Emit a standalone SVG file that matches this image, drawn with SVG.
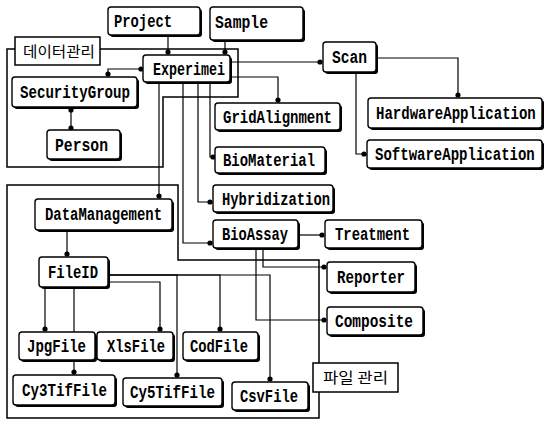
<svg xmlns="http://www.w3.org/2000/svg" width="548" height="422" viewBox="0 0 548 422">
<style>
.sh{fill:#000}
.bx{fill:#fff;stroke:#000;stroke-width:1.4}
.lb{fill:#fff;stroke:#000;stroke-width:1.5}
.t{font-family:"Liberation Mono","DejaVu Sans Mono",monospace;font-weight:bold;font-size:19px;fill:#000}
.k{font-family:"Noto Sans CJK KR","Noto Sans",sans-serif;font-size:15px;fill:#000}
.fr{fill:none;stroke:#000;stroke-width:1.5}
.c{fill:none;stroke:#000;stroke-width:1.2}
.d{marker-end:url(#dot)}
.s{marker-start:url(#dot)}
</style>
<defs>
<marker id="dot" viewBox="0 0 6 6" refX="3" refY="3" markerWidth="6" markerHeight="6" markerUnits="userSpaceOnUse"><circle cx="3" cy="3" r="2.6" fill="#000"/></marker>
</defs>
<rect width="548" height="422" fill="#fff"/>
<g id="frames">
<path class="fr" d="M15,49 H7 V167 H163 V97 H238 V49 H100"/>
<path class="fr" d="M7,185 H178 V260 H319 V418 H7 Z"/>
</g>
<g id="connectors">
<path class="c d" d="M168,35 V52"/>
<path class="c d" d="M225,40 V52"/>
<path class="c d s" d="M141,69 H108 V74"/>
<path class="c d s" d="M71,110 V128"/>
<path class="c d" d="M230,62 H320"/>
<path class="c d" d="M230,77 H278 V100"/>
<path class="c d" d="M210,82 V157 H213"/>
<path class="c d" d="M198,82 V202 H210"/>
<path class="c d" d="M183,82 V243 H210"/>
<path class="c d" d="M159,82 V196"/>
<path class="c d" d="M376,58 H458 V95"/>
<path class="c d" d="M356,72 V154 H364"/>
<path class="c d" d="M298,235 H322"/>
<path class="c d" d="M263,248 V267 H324"/>
<path class="c d" d="M256,248 V320 H324"/>
<path class="c d" d="M67,230 V254"/>
<path class="c d" d="M45,287 V329"/>
<path class="c d" d="M74,287 V372"/>
<path class="c d" d="M108,282 H160 V329"/>
<path class="c d" d="M108,275 H177 V375"/>
<path class="c d" d="M108,275 H220 V329"/>
<path class="c d" d="M108,275 H270 V379"/>
</g>
<g id="Project"><rect class="sh" x="110" y="9" width="92" height="28" rx="3"/><rect class="bx" x="108" y="7" width="92" height="28" rx="3"/><text class="t" x="114" y="27" textLength="58" lengthAdjust="spacingAndGlyphs">Project</text></g>
<g id="Sample"><rect class="sh" x="212" y="9" width="93" height="33" rx="3"/><rect class="bx" x="210" y="7" width="93" height="33" rx="3"/><text class="t" x="215" y="28" textLength="53" lengthAdjust="spacingAndGlyphs">Sample</text></g>
<g id="DataAdmin"><rect class="lb" x="15" y="37" width="85" height="28"/><text class="k" x="23" y="57" textLength="72" lengthAdjust="spacingAndGlyphs">데이터관리</text></g>
<g id="Experiment"><rect class="sh" x="145" y="57" width="87" height="27" rx="3"/><rect class="bx" x="143" y="55" width="87" height="27" rx="3"/><text class="t" x="153" y="75" textLength="72" lengthAdjust="spacingAndGlyphs">Experimei</text></g>
<g id="SecurityGroup"><rect class="sh" x="14" y="79" width="125" height="30" rx="3"/><rect class="bx" x="12" y="77" width="125" height="30" rx="3"/><text class="t" x="20" y="98" textLength="110" lengthAdjust="spacingAndGlyphs">SecurityGroup</text></g>
<g id="Person"><rect class="sh" x="49" y="132" width="73" height="29" rx="3"/><rect class="bx" x="47" y="130" width="73" height="29" rx="3"/><text class="t" x="55" y="151" textLength="53" lengthAdjust="spacingAndGlyphs">Person</text></g>
<g id="Scan"><rect class="sh" x="325" y="44" width="53" height="30" rx="3"/><rect class="bx" x="323" y="42" width="53" height="30" rx="3"/><text class="t" x="332" y="63" textLength="35" lengthAdjust="spacingAndGlyphs">Scan</text></g>
<g id="GridAlignment"><rect class="sh" x="217" y="105" width="125" height="27" rx="3"/><rect class="bx" x="215" y="103" width="125" height="27" rx="3"/><text class="t" x="223" y="123" textLength="109" lengthAdjust="spacingAndGlyphs">GridAlignment</text></g>
<g id="HardwareApplication"><rect class="sh" x="370" y="100" width="174" height="30" rx="3"/><rect class="bx" x="368" y="98" width="174" height="30" rx="3"/><text class="t" transform="translate(376,119) scale(0.738,1)">HardwareApplication</text></g>
<g id="SoftwareApplication"><rect class="sh" x="369" y="142" width="175" height="28" rx="3"/><rect class="bx" x="367" y="140" width="175" height="28" rx="3"/><text class="t" transform="translate(375,160) scale(0.738,1)">SoftwareApplication</text></g>
<g id="BioMaterial"><rect class="sh" x="217" y="149" width="110" height="26" rx="3"/><rect class="bx" x="215" y="147" width="110" height="26" rx="3"/><text class="t" x="223" y="166" textLength="92" lengthAdjust="spacingAndGlyphs">BioMaterial</text></g>
<g id="Hybridization"><rect class="sh" x="215" y="187" width="120" height="27" rx="3"/><rect class="bx" x="213" y="185" width="120" height="27" rx="3"/><text class="t" x="222" y="205" textLength="108" lengthAdjust="spacingAndGlyphs">Hybridization</text></g>
<g id="BioAssay"><rect class="sh" x="215" y="222" width="85" height="28" rx="3"/><rect class="bx" x="213" y="220" width="85" height="28" rx="3"/><text class="t" x="222" y="240" textLength="66" lengthAdjust="spacingAndGlyphs">BioAssay</text></g>
<g id="Treatment"><rect class="sh" x="327" y="222" width="97" height="28" rx="3"/><rect class="bx" x="325" y="220" width="97" height="28" rx="3"/><text class="t" x="335" y="240" textLength="75" lengthAdjust="spacingAndGlyphs">Treatment</text></g>
<g id="Reporter"><rect class="sh" x="329" y="264" width="88" height="30" rx="3"/><rect class="bx" x="327" y="262" width="88" height="30" rx="3"/><text class="t" x="337" y="283" textLength="68" lengthAdjust="spacingAndGlyphs">Reporter</text></g>
<g id="Composite"><rect class="sh" x="329" y="309" width="96" height="28" rx="3"/><rect class="bx" x="327" y="307" width="96" height="28" rx="3"/><text class="t" x="335" y="327" textLength="78" lengthAdjust="spacingAndGlyphs">Composite</text></g>
<g id="DataManagement"><rect class="sh" x="37" y="201" width="137" height="31" rx="3"/><rect class="bx" x="35" y="199" width="137" height="31" rx="3"/><text class="t" x="45" y="220" textLength="117" lengthAdjust="spacingAndGlyphs">DataManagement</text></g>
<g id="FileID"><rect class="sh" x="41" y="259" width="69" height="30" rx="3"/><rect class="bx" x="39" y="257" width="69" height="30" rx="3"/><text class="t" x="48" y="278" textLength="50" lengthAdjust="spacingAndGlyphs">FileID</text></g>
<g id="JpgFile"><rect class="sh" x="21" y="334" width="76" height="28" rx="3"/><rect class="bx" x="19" y="332" width="76" height="28" rx="3"/><text class="t" x="27" y="352" textLength="59" lengthAdjust="spacingAndGlyphs">JpgFile</text></g>
<g id="XlsFile"><rect class="sh" x="99" y="334" width="76" height="28" rx="3"/><rect class="bx" x="97" y="332" width="76" height="28" rx="3"/><text class="t" x="107" y="352" textLength="58" lengthAdjust="spacingAndGlyphs">XlsFile</text></g>
<g id="CodFile"><rect class="sh" x="185" y="334" width="75" height="28" rx="3"/><rect class="bx" x="183" y="332" width="75" height="28" rx="3"/><text class="t" x="190" y="352" textLength="58" lengthAdjust="spacingAndGlyphs">CodFile</text></g>
<g id="Cy3TifFile"><rect class="sh" x="15" y="377" width="102" height="30" rx="3"/><rect class="bx" x="13" y="375" width="102" height="30" rx="3"/><text class="t" x="22" y="396" textLength="85" lengthAdjust="spacingAndGlyphs">Cy3TifFile</text></g>
<g id="Cy5TifFile"><rect class="sh" x="125" y="380" width="99" height="28" rx="3"/><rect class="bx" x="123" y="378" width="99" height="28" rx="3"/><text class="t" x="130" y="398" textLength="85" lengthAdjust="spacingAndGlyphs">Cy5TifFile</text></g>
<g id="CsvFile"><rect class="sh" x="234" y="384" width="76" height="28" rx="3"/><rect class="bx" x="232" y="382" width="76" height="28" rx="3"/><text class="t" x="240" y="402" textLength="58" lengthAdjust="spacingAndGlyphs">CsvFile</text></g>
<g id="FileAdmin"><rect class="lb" x="313" y="363" width="85" height="29"/><text class="k" x="323" y="383" textLength="65" lengthAdjust="spacingAndGlyphs">파일 관리</text></g>
</svg>
